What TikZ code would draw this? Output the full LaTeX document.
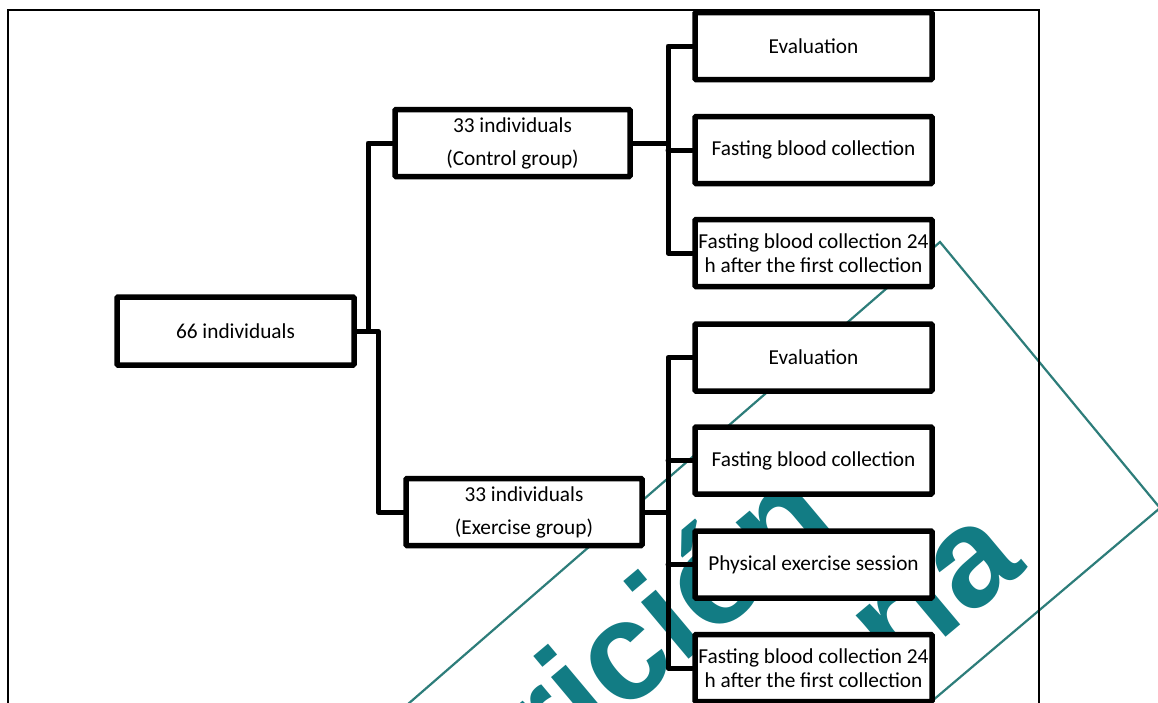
\documentclass[tikz,border=0pt]{standalone}
\usepackage{fontspec}
\setmainfont{Carlito}
\newfontfamily\wmfont{Liberation Sans}
\definecolor{wmteal}{RGB}{18,124,132}
\definecolor{wmline}{RGB}{45,125,122}
\pgfdeclarelayer{wm}
\pgfdeclarelayer{conn}
\pgfsetlayers{wm,conn,main}
\begin{document}
\begin{tikzpicture}[x=1pt,y=-1pt,
  box/.style={draw=black, line width=5.5pt, fill=white, inner sep=0pt,
    minimum width=237pt, minimum height=67pt, align=center,
    font=\fontsize{21.3}{24}\selectfont, rounded corners=1pt},
  widebox/.style={box, font=\fontsize{21.3}{33}\selectfont},
  link/.style={line width=5pt, line join=round, line cap=round},
  framepath/.style={line width=1.5pt, black},
  wml/.style={line width=2.2pt, wmline},
  wmtext/.style={text=wmteal, font=\wmfont\bfseries\fontsize{140}{140}\selectfont, inner sep=0pt, rotate=40, anchor=base east}]
\useasboundingbox (0,0) rectangle (1158,702);
% nodes
\node[box, minimum width=237pt, minimum height=68pt] (root) at (235.5,331) {66 individuals};
\node[widebox, minimum width=235pt] (ctrl) at (512.5,143) {33 individuals\\(Control group)};
\node[widebox, minimum width=236pt] (exer) at (524,512) {33 individuals\\(Exercise group)};
\node[box] (c1) at (813.5,46) {Evaluation};
\node[box] (c2) at (813.5,150) {Fasting blood collection};
\node[box] (c3) at (813.5,253) {Fasting blood collection 24\\h after the first collection};
\node[box] (e1) at (813.5,357.5) {Evaluation};
\node[box] (e2) at (813.5,460.5) {Fasting blood collection};
\node[box] (e3) at (813.5,564.5) {Physical exercise session};
\node[box] (e4) at (813.5,668) {Fasting blood collection 24\\h after the first collection};
\begin{pgfonlayer}{wm}
\clip (0,0) rectangle (1158,702);
\fill[white] (0,0) rectangle (1158,702);
\draw[wml] (400,711) -- (940,242) -- (1160,508) -- (919,712);
\node[wmtext] (wm1) at (842,530) {Nutrición};
\node[wmtext] (wm2) at (1028,568) {Hospitalaria};
\draw[framepath] (8,712) -- (8,10) -- (1039,10) -- (1039,712);
\end{pgfonlayer}
\begin{pgfonlayer}{conn}
\coordinate (rj1) at (378,331);
\coordinate (rj2) at (368,331);
\coordinate (cj) at (668,143);
\coordinate (ej) at (668,512);
\draw[link] (root.east) -- (rj1) |- (exer.west);
\draw[link] (rj2) |- (ctrl.west);
\draw[link] (ctrl.east) -- (cj);
\draw[link] (c1.west) -- (c1.west -| cj) -- (c3.west -| cj) -- (c3.west);
\draw[link] (c2.west) -- (c2.west -| cj);
\draw[link] (exer.east) -- (ej);
\draw[link] (e1.west) -- (e1.west -| ej) -- (e4.west -| ej) -- (e4.west);
\draw[link] (e2.west) -- (e2.west -| ej);
\draw[link] (e3.west) -- (e3.west -| ej);
\end{pgfonlayer}
\end{tikzpicture}
\end{document}
